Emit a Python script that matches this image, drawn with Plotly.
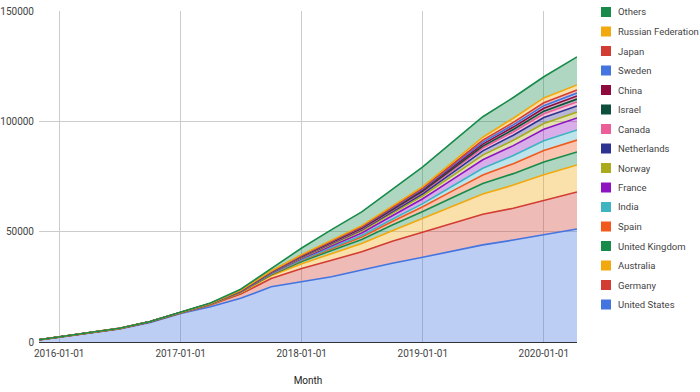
import plotly.graph_objects as go

dates = ['2015-11-01', '2016-01-01', '2016-04-01', '2016-07-01', '2016-10-01',
         '2017-01-01', '2017-04-01', '2017-07-01', '2017-10-01', '2018-01-01',
         '2018-04-01', '2018-07-01', '2018-10-01', '2019-01-01', '2019-04-01',
         '2019-07-01', '2019-10-01', '2020-01-01', '2020-04-10']

united_states = [950, 2200, 4300, 5900, 8900, 12900, 16000, 19800, 25000, 27300, 29600, 32600, 35700, 38400, 41300, 44000, 46200, 48500, 51200]
germany = [25, 50, 100, 150, 200, 300, 800, 1900, 3800, 6000, 7400, 8300, 10000, 11500, 12700, 13900, 14400, 15500, 16800]
australia = [5, 10, 25, 40, 50, 80, 250, 600, 1200, 2200, 3000, 3700, 4700, 6000, 7500, 9200, 10500, 11800, 12200]
united_kingdom = [5, 10, 15, 20, 25, 40, 100, 250, 500, 1000, 1400, 1900, 2600, 3200, 4000, 4700, 5200, 5800, 5900]
spain = [0, 5, 5, 5, 10, 20, 50, 120, 250, 500, 800, 1100, 1600, 2200, 3000, 3900, 4500, 5200, 5400]
india = [0, 0, 5, 5, 5, 10, 30, 80, 150, 300, 500, 700, 1000, 1400, 2200, 3000, 3700, 4400, 4600]
france = [5, 5, 5, 10, 15, 20, 60, 150, 300, 500, 800, 1100, 1600, 2200, 3000, 3900, 4500, 5200, 5400]
norway = [0, 5, 5, 10, 10, 20, 50, 120, 250, 400, 650, 900, 1100, 1400, 1700, 2100, 2400, 2600, 2700]
netherlands = [0, 0, 5, 5, 5, 10, 30, 80, 150, 300, 400, 500, 700, 900, 1400, 1900, 2300, 2700, 2800]
canada = [0, 0, 5, 5, 5, 10, 25, 60, 120, 200, 300, 400, 550, 700, 1000, 1300, 1500, 1700, 1800]
israel = [0, 0, 0, 5, 5, 5, 20, 50, 100, 200, 250, 300, 400, 500, 700, 900, 1100, 1200, 1300]
china = [0, 0, 0, 5, 5, 5, 15, 40, 80, 150, 250, 300, 400, 500, 700, 900, 1100, 1300, 1400]
sweden = [0, 0, 0, 5, 5, 5, 15, 40, 80, 150, 250, 300, 400, 500, 700, 900, 1000, 1200, 1300]
japan = [0, 0, 0, 0, 5, 5, 10, 30, 50, 100, 150, 200, 300, 400, 650, 900, 1100, 1300, 1400]
russian_federation = [0, 0, 5, 5, 5, 10, 35, 80, 170, 300, 400, 450, 550, 600, 950, 1300, 1900, 2200, 2300]
others = [10, 15, 25, 30, 50, 60, 210, 500, 1000, 3000, 4800, 6200, 7600, 9000, 9200, 9300, 9400, 9600, 12700]

series_names = ['United States', 'Germany', 'Australia', 'United Kingdom', 'Spain', 'India',
                'France', 'Norway', 'Netherlands', 'Canada', 'Israel', 'China', 'Sweden',
                'Japan', 'Russian Federation', 'Others']
series_values = [united_states, germany, australia, united_kingdom, spain, india, france,
                 norway, netherlands, canada, israel, china, sweden, japan,
                 russian_federation, others]
colors = ['#4374e0', '#d23c32', '#f2a90f', '#188a4a', '#f15a1c', '#3eb3c2', '#8e14c2',
          '#a9ab1d', '#2e3290', '#ec5e98', '#0d4f3c', '#8e0a3c', '#4374e0', '#d23c32',
          '#f2a90f', '#188a4a']


def rgba(hexc, a):
    h = hexc.lstrip('#')
    r, g, b = int(h[0:2], 16), int(h[2:4], 16), int(h[4:6], 16)
    return f'rgba({r},{g},{b},{a})'


W, H = 700, 392
ML, MR, MT, MB = 39, 123, 11, 50
PW, PH = W - ML - MR, H - MT - MB

fig = go.Figure()
for name, vals, col in zip(series_names, series_values, colors):
    fig.add_trace(go.Scatter(
        x=dates, y=vals, name=name, mode='lines', stackgroup='one',
        line=dict(color=col, width=1.6), fillcolor=rgba(col, 0.35),
        showlegend=False, hoverinfo='skip'))

# Manual legend (top item = last series), placed in pixel terms
shapes = []
annotations = []
for i, (name, col) in enumerate(zip(reversed(series_names), reversed(colors))):
    cy = 12 + i * 19.5
    yp = (H - MB - cy) / PH
    x0 = (601 - ML) / PW
    x1 = (611 - ML) / PW
    y0 = (H - MB - (cy + 5)) / PH
    y1 = (H - MB - (cy - 5)) / PH
    shapes.append(dict(type='rect', xref='paper', yref='paper', x0=x0, x1=x1, y0=y0, y1=y1,
                       fillcolor=col, line=dict(width=0), layer='above'))
    annotations.append(dict(text=name, xref='paper', yref='paper', x=(616 - ML) / PW, y=yp,
                            xanchor='left', yanchor='middle', showarrow=False,
                            font=dict(size=9.5, color='#444')))

fig.update_layout(
    width=W, height=H,
    margin=dict(l=ML, r=MR, t=MT, b=MB, autoexpand=False),
    paper_bgcolor='white', plot_bgcolor='white',
    font=dict(family='Roboto, Arial, sans-serif', size=10, color='#444'),
    showlegend=False,
    shapes=shapes, annotations=annotations,
    xaxis=dict(type='date', range=['2015-11-01', '2020-04-10'],
               tick0='2016-01-01', dtick='M12', tickformat='%Y-%m-%d',
               showgrid=True, gridcolor='#cccccc', gridwidth=1,
               zeroline=False, showline=False, ticks='', ticklabelstandoff=4,
               title=dict(text='Month', standoff=18, font=dict(size=10, color='#222')),
               tickfont=dict(size=10, color='#444')),
    yaxis=dict(range=[0, 150000], tickvals=[0, 50000, 100000, 150000],
               ticktext=['0', '50000', '100000', '150000'],
               showgrid=True, gridcolor='#cccccc', gridwidth=1,
               zeroline=True, zerolinecolor='#333333', zerolinewidth=1,
               showline=False, ticks='', ticklabelstandoff=4,
               tickfont=dict(size=10, color='#444')),
)

fig.write_html('out.html')
